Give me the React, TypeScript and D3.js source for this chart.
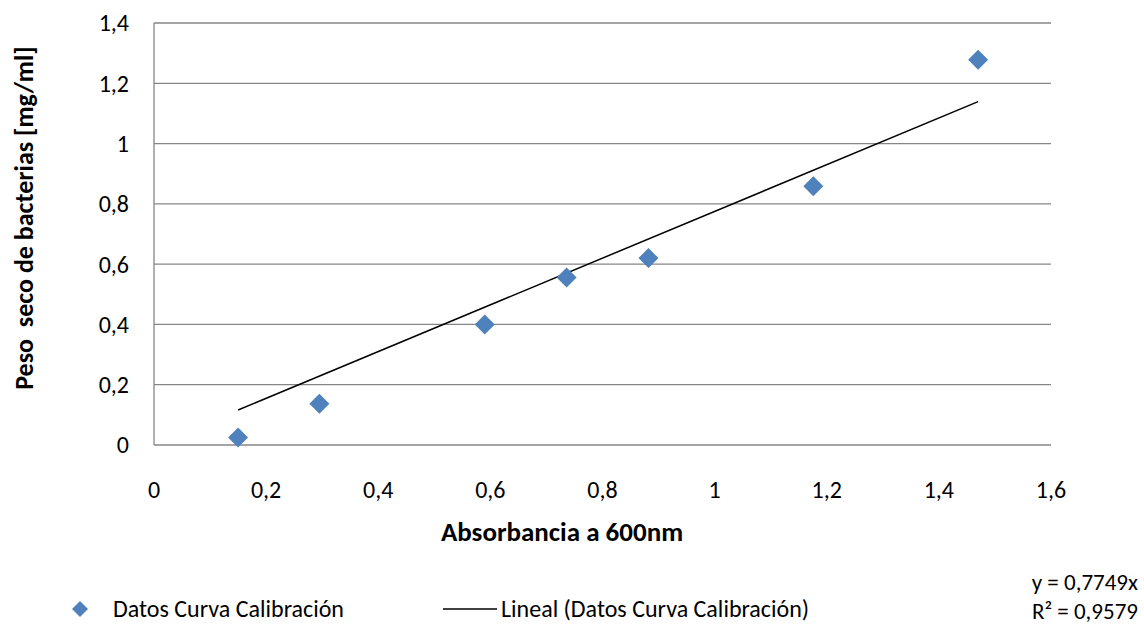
import React from "react";
import * as d3 from "d3";

const absorbance = [0.15, 0.295, 0.59, 0.736, 0.882, 1.176, 1.47];
const dryWeight = [0.025, 0.137, 0.4, 0.556, 0.62, 0.858, 1.278];
const slope = 0.7749;
const xTicks = [0, 0.2, 0.4, 0.6, 0.8, 1, 1.2, 1.4, 1.6];
const yTicks = [0, 0.2, 0.4, 0.6, 0.8, 1, 1.2, 1.4];
const seriesName = "Datos Curva Calibración";
const trendName = "Lineal (Datos Curva Calibración)";
const eqLabel = "y = 0,7749x";
const r2Label = "R² = 0,9579";

const W = 1144, H = 629;
const FONT = "Carlito, Calibri, Lato, 'Open Sans', sans-serif";
const fmt = (v: number) => String(Math.round(v * 10) / 10).replace(".", ",");

export default function App() {
  const x = d3.scaleLinear().domain([0, 1.6]).range([154, 1051]);
  const y = d3.scaleLinear().domain([0, 1.4]).range([445, 23]);
  const x0 = d3.min(absorbance)!, x1 = d3.max(absorbance)!;
  const line = d3.line<number>().x((d) => x(d)).y((d) => y(d * slope));
  const diamond = d3.symbol().type(d3.symbolSquare).size(200)()!;
  return (
    <svg width={W} height={H} style={{ position: "absolute", left: 0, top: 0, fontFamily: FONT }}>
      <rect width={W} height={H} fill="#fff" />
      {yTicks.map((t) => (
        <line key={t} x1={x(0)} x2={x(1.6)} y1={y(t)} y2={y(t)} stroke="#868686" strokeWidth={1.3} />
      ))}
      <line x1={x(0)} x2={x(0)} y1={y(0)} y2={y(1.4)} stroke="#868686" strokeWidth={1.3} />
      {yTicks.map((t) => (
        <text key={t} x={129} y={y(t)} dy="0.35em" textAnchor="end" fontSize={24} fill="#000">{fmt(t)}</text>
      ))}
      {xTicks.map((t) => (
        <text key={t} x={x(t)} y={490} dy="0.35em" textAnchor="middle" fontSize={24} fill="#000">{fmt(t)}</text>
      ))}
      <text x={562} y={532} dy="0.35em" textAnchor="middle" fontSize={27} fontWeight="bold">Absorbancia a 600nm</text>
      <text transform={`translate(24,218) rotate(-90)`} dy="0.35em" textAnchor="middle" fontSize={26} fontWeight="bold" style={{ whiteSpace: "pre" }}>{"Peso  seco de bacterias [mg/ml]"}</text>
      <path d={line([x0, x1])!} stroke="#000" strokeWidth={1.5} fill="none" />
      {absorbance.map((a, i) => (
        <path key={i} d={diamond} transform={`translate(${x(a)},${y(dryWeight[i])}) rotate(45)`} fill="#4f81bd" />
      ))}
      <path d={d3.symbol().type(d3.symbolSquare).size(128)()!} transform="translate(80,609) rotate(45)" fill="#4f81bd" />
      <text x={113} y={609} dy="0.35em" fontSize={24}>{seriesName}</text>
      <line x1={443} x2={497} y1={609} y2={609} stroke="#000" strokeWidth={1.5} />
      <text x={501} y={609} dy="0.35em" fontSize={24}>{trendName}</text>
      <text x={1138} y={582} dy="0.35em" textAnchor="end" fontSize={23}>{eqLabel}</text>
      <text x={1138} y={611} dy="0.35em" textAnchor="end" fontSize={23}>{r2Label}</text>
    </svg>
  );
}
